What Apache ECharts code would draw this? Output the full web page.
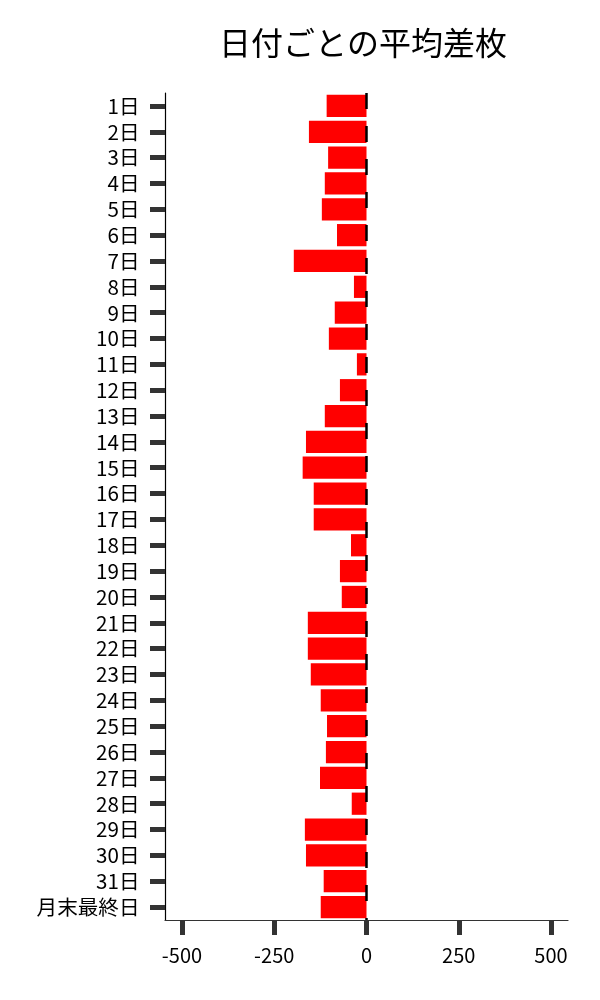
<!DOCTYPE html>
<html>
<head>
<meta charset="utf-8">
<script src="https://cdn.jsdelivr.net/npm/echarts@6/dist/echarts.min.js"></script>
<style>html,body{margin:0;padding:0;background:#fff}#c{width:600px;height:1000px}</style>
</head>
<body>
<div id="c"></div>
<script>
const categories = ['1日','2日','3日','4日','5日','6日','7日','8日','9日','10日','11日','12日','13日','14日','15日','16日','17日','18日','19日','20日','21日','22日','23日','24日','25日','26日','27日','28日','29日','30日','31日','月末最終日'];
const avgDiff = [-108,-156,-104,-113,-121,-80,-197,-34,-86,-102,-26,-72,-113,-164,-173,-143,-143,-42,-72,-67,-159,-159,-151,-124,-107,-110,-126,-40,-167,-164,-116,-124];
const xTicks = [-500,-250,0,250,500];
const titleText = '日付ごとの平均差枚';

const font = '"Noto Sans CJK JP", "Noto Sans", sans-serif';
const chart = echarts.init(document.getElementById('c'), null, {renderer:'canvas'});
chart.setOption({
  animation: false,
  backgroundColor: '#fff',
  title: {
    text: titleText,
    left: 358,
    top: 22,
    textAlign: 'center',
    textStyle: {fontFamily: font, fontSize: 32, fontWeight: 'normal', color: '#000'}
  },
  grid: {left: 165, right: 32, top: 93, bottom: 80, containLabel: false},
  xAxis: {
    type: 'value',
    min: -546, max: 546,
    axisLine: {show: true, onZero: false, lineStyle: {color: '#333', width: 1.2}},
    axisTick: {show: true, customValues: xTicks, length: 15, lineStyle: {color: '#333', width: 5}},
    axisLabel: {customValues: xTicks, margin: 25, color: '#000', fontSize: 20, fontFamily: font},
    splitLine: {show: false}
  },
  yAxis: {
    type: 'category',
    data: categories,
    inverse: true,
    axisLine: {show: true, onZero: false, lineStyle: {color: '#000', width: 1.2}},
    axisTick: {show: true, alignWithLabel: true, interval: 0, length: 15, lineStyle: {color: '#333', width: 5}},
    axisLabel: {interval: 0, margin: 25.5, color: '#000', fontSize: 20.6, fontFamily: font},
    splitLine: {show: false}
  },
  series: [{
    type: 'bar',
    data: avgDiff,
    barCategoryGap: '14%',
    itemStyle: {color: '#ff0000'},
    markLine: {
      silent: true,
      symbol: 'none',
      label: {show: false},
      lineStyle: {color: '#000', width: 2.5, type: [16, 17], dashOffset: 0},
      data: [{xAxis: 0}]
    }
  }]
});
</script>
</body>
</html>
